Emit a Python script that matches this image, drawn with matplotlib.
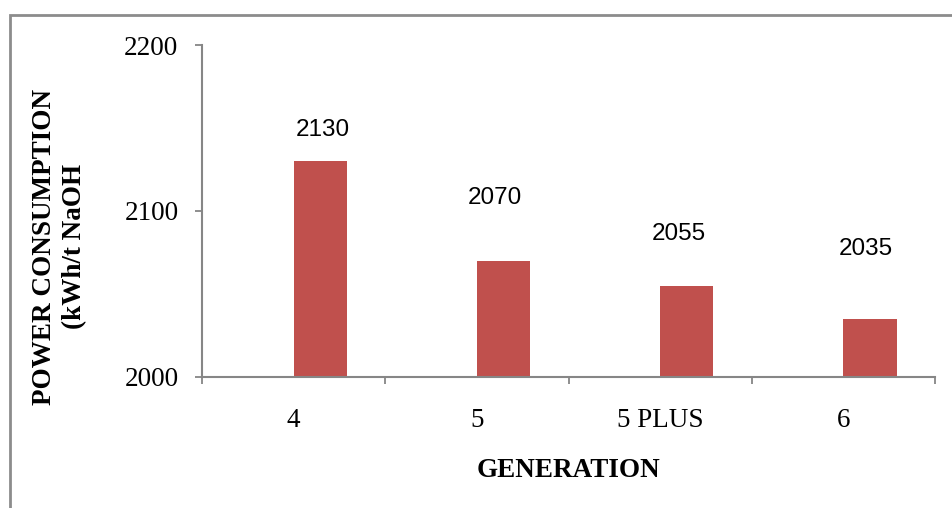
import matplotlib
matplotlib.use('Agg')
import matplotlib.pyplot as plt
from matplotlib.patches import Rectangle

# Data
generations = ['4', '5', '5 PLUS', '6']
power = [2130, 2070, 2055, 2035]
y_ticks = [2000, 2100, 2200]

# Hand-placed data label offsets (category units, kWh units)
label_dx = [0.16, 0.10, 0.10, 0.12]
label_dy = [19, 38, 31, 42]

bar_color = '#C0504D'
axis_color = '#868686'
serif = 'Liberation Serif'

fig = plt.figure(figsize=(9.52, 5.08), dpi=100)
ax = fig.add_axes([0.2122, 0.2579, 0.770, 0.6535])

x = list(range(len(generations)))
ax.bar(x, [v - y_ticks[0] for v in power], bottom=y_ticks[0], width=0.29,
       align='edge', color=bar_color, zorder=2)

for i, v in enumerate(power):
    ax.text(i + label_dx[i], v + label_dy[i], str(v), ha='center', va='center',
            fontsize=17.5, family='Liberation Sans', color='black')

ax.set_xlim(-0.5, len(generations) - 0.5)
ax.set_ylim(y_ticks[0], y_ticks[-1])
ax.set_yticks(y_ticks)
ax.set_yticklabels([str(t) for t in y_ticks], family=serif, fontsize=19.5)

# category boundary ticks, labels centred in between
ax.set_xticks([i - 0.5 for i in range(len(generations) + 1)])
ax.set_xticklabels([])
ax.set_xticks(x, minor=True)
ax.set_xticklabels(generations, minor=True, family=serif, fontsize=19.5)
ax.tick_params(axis='x', which='minor', length=0, pad=22)
ax.tick_params(axis='x', which='major', length=5, width=1.3, color=axis_color)
ax.tick_params(axis='y', length=5, width=1.3, color=axis_color, pad=12)

for s in ['top', 'right']:
    ax.spines[s].set_visible(False)
for s in ['left', 'bottom']:
    ax.spines[s].set_color(axis_color)
    ax.spines[s].set_linewidth(1.5)

ax.set_xlabel('GENERATION', family=serif, fontsize=19.5, fontweight='bold', labelpad=18)
fig.text(0.0625, 0.514, 'POWER CONSUMPTION\n(kWh/t NaOH', rotation=90,
         ha='center', va='center', multialignment='center', linespacing=1.3,
         family=serif, fontsize=19.5, fontweight='bold')

# outer chart border
fig.patches.append(Rectangle((10 / 952, -0.1), 1.1, 0.1 + (1 - 15 / 508),
                             transform=fig.transFigure, fill=False,
                             edgecolor='#8C8C8C', linewidth=2))

fig.savefig('out.png', dpi=100)
